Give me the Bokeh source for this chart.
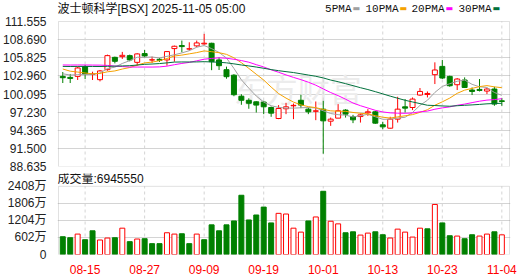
import pandas as pd
from bokeh.plotting import figure
from bokeh.layouts import column
from bokeh.models import (Range1d, FixedTicker, NumeralTickFormatter, Label, ColumnDataSource,
                          Grid, BoxAnnotation)
from bokeh.embed import file_html
from bokeh.resources import INLINE

title_text = "波士顿科学[BSX] 2025-11-05 05:00"
volume_title = "成交量"
last_volume = 6945550
watermark = "东方财富"

dates = ["08-12", "08-13", "08-14", "08-15", "08-18", "08-19", "08-20", "08-21", "08-22",
         "08-25", "08-26", "08-27", "08-28", "08-29", "09-02", "09-03", "09-04", "09-05",
         "09-08", "09-09", "09-10", "09-11", "09-12", "09-15", "09-16", "09-17", "09-18",
         "09-19", "09-22", "09-23", "09-24", "09-25", "09-26", "09-29", "09-30", "10-01",
         "10-02", "10-03", "10-06", "10-07", "10-08", "10-09", "10-10", "10-13", "10-14",
         "10-15", "10-16", "10-17", "10-20", "10-21", "10-22", "10-23", "10-24", "10-27",
         "10-28", "10-29", "10-30", "10-31", "11-03", "11-04"]

opens = [102.88, 102.72, 102.88, 104.42, 103.20, 102.36, 103.94, 105.89, 106.00, 106.16,
         105.10, 106.48, 105.47, 105.58, 105.48, 107.27, 107.75, 107.20, 107.70, 108.01,
         108.11, 105.48, 103.94, 103.07, 99.74, 99.10, 98.86, 98.82, 97.96, 96.22,
         97.76, 98.23, 99.10, 97.70, 97.36, 97.70, 95.80, 96.28, 97.55, 96.53,
         96.53, 97.12, 97.28, 95.22, 94.69, 96.12, 98.07, 97.96, 99.93, 100.02,
         103.15, 104.46, 102.88, 101.56, 102.31, 100.72, 100.82, 100.56, 100.88, 99.02]
highs = [103.57, 103.26, 104.42, 104.69, 103.62, 103.89, 106.32, 106.00, 106.75, 106.32,
         106.53, 107.06, 106.00, 105.80, 106.85, 107.75, 108.54, 108.27, 108.54, 109.60,
         108.20, 105.89, 104.42, 103.23, 100.06, 99.42, 98.94, 99.02, 98.12, 98.34,
         98.70, 98.59, 99.98, 97.96, 98.91, 99.02, 96.37, 98.50, 97.70, 96.80,
         97.01, 97.70, 97.44, 95.69, 96.49, 99.66, 99.29, 99.55, 101.04, 100.50,
         105.10, 105.48, 102.99, 102.62, 102.72, 101.13, 102.46, 101.04, 101.24, 99.45]
lows = [101.83, 101.83, 102.31, 102.46, 102.31, 102.09, 103.78, 104.94, 105.64, 105.26,
        104.58, 105.89, 105.00, 105.16, 104.58, 105.21, 106.69, 106.95, 107.48, 107.90,
        103.86, 103.89, 102.51, 99.74, 98.39, 97.76, 97.17, 96.91, 96.49, 96.12,
        96.91, 96.12, 97.86, 96.91, 95.96, 90.66, 95.06, 96.28, 96.37, 95.49,
        95.58, 96.64, 95.38, 94.54, 94.63, 95.58, 97.17, 97.55, 99.82, 99.55,
        101.67, 102.46, 101.24, 100.72, 101.04, 99.93, 100.50, 100.09, 98.23, 98.23]
closes = [102.67, 102.56, 104.21, 103.26, 103.24, 103.74, 106.16, 105.26, 106.21, 105.48,
          106.43, 106.11, 105.50, 105.42, 106.80, 107.64, 107.59, 107.24, 108.17, 108.12,
          105.21, 104.57, 102.83, 99.98, 99.10, 98.63, 98.34, 98.07, 97.07, 97.80,
          98.07, 98.30, 98.34, 97.28, 97.44, 95.85, 96.12, 97.44, 96.91, 96.01,
          96.80, 97.28, 95.49, 94.90, 96.12, 97.70, 97.86, 99.29, 100.50, 100.18,
          103.89, 102.62, 101.40, 102.46, 101.13, 100.50, 100.66, 100.88, 98.50, 98.91]
# volume in 万股 (10k shares)
volumes = [628, 593, 721, 523, 837, 512, 582, 593, 930, 454,
           547, 558, 384, 384, 768, 721, 733, 384, 721, 523,
           1047, 837, 1047, 1186, 2093, 1221, 1396, 1675, 1116, 1454,
           1430, 930, 791, 1186, 1326, 2233, 1175, 1082, 768, 802,
           686, 756, 802, 698, 582, 896, 791, 616, 930, 907,
           1768, 1116, 663, 651, 558, 698, 651, 721, 802, 694.555]
# estimated closes of the 29 sessions before 08-12 (only feed the moving averages)
closes_before = [103.0, 103.8, 103.2, 103.5, 104.0, 105.2, 104.6, 105.0, 104.4, 103.3,
                 102.8, 104.0, 103.3, 103.5, 103.9, 107.0, 107.4, 107.8, 107.0, 106.5,
                 106.0, 105.6, 104.8, 104.5, 103.1, 103.6, 103.9, 103.2, 103.1]

price_ticks = [88.635, 91.500, 94.365, 97.230, 100.095, 102.960, 105.825, 108.690, 111.555]
volume_ticks = [0, 602, 1204, 1806, 2408]
date_ticks = ["08-15", "08-27", "09-09", "09-19", "10-01", "10-13", "10-23", "11-04"]
ma_periods = [5, 10, 20, 30]
ma_names = ["5PMA", "10PMA", "20PMA", "30PMA"]
ma_colors = ["#a0a0a0", "#f5a200", "#ff00ff", "#00703c"]

UP = "#ff0000"
DOWN = "#008000"
GRID = "#d4d4d4"
FRAME = "#9a9a9a"
FONT = "Liberation Sans, Noto Sans CJK SC"

# ---------------- layout geometry (pixels) ----------------
W = 530
FRAME_L, FRAME_R = 55, 510          # plotting frame (1px wider than the drawn box)
BOX_L, BOX_R = 56, 509              # drawn panel boxes
BAR1_PX, BAR_STEP = 60.3, 7.4746    # pixel of first bar and bar spacing
P_TOP, P_BOT, P_H = 21, 166, 173    # price box top/bottom, price figure height
V_TOP, V_BOT, V_H = 186, 255, 103   # volume box top/bottom (canvas), volume figure height
V_START = P_H                       # canvas y where the volume figure starts


def px_to_bar(px):
    return 1 + (px - BAR1_PX) / BAR_STEP


n = len(closes)
xs = list(range(1, n + 1))
prev_close = [closes_before[-1]] + closes[:-1]
is_up = [c >= o for o, c in zip(opens, closes)]
vol_up = [c >= pc for c, pc in zip(closes, prev_close)]

src = ColumnDataSource(dict(
    x=xs, high=highs, low=lows,
    top=[max(o, c) for o, c in zip(opens, closes)],
    bottom=[min(o, c) for o, c in zip(opens, closes)],
    line=[UP if u else DOWN for u in is_up],
    fill=["#ffffff" if u else DOWN for u in is_up],
))
vsrc = ColumnDataSource(dict(
    x=xs, vol=volumes,
    line=[UP if u else DOWN for u in vol_up],
    fill=["#ffffff" if u else DOWN for u in vol_up],
))

full = pd.Series(closes_before + closes)
mas = [full.rolling(k).mean().iloc[len(closes_before):].tolist() for k in ma_periods]

x_range = Range1d(px_to_bar(FRAME_L), px_to_bar(FRAME_R))
box_left, box_right = px_to_bar(BOX_L), px_to_bar(BOX_R)
tick_pos = [dates.index(d) + 1 for d in date_ticks]

# ---------------- price panel ----------------
p_lo, p_hi = price_ticks[0], price_ticks[-1]
per_px = (p_hi - p_lo) / (P_BOT - P_TOP)
p = figure(width=W, height=P_H, x_range=x_range,
           y_range=Range1d(p_lo, p_hi + P_TOP * per_px),
           output_backend="svg", toolbar_location=None, x_axis_location=None,
           min_border_left=FRAME_L, min_border_right=W - FRAME_R,
           min_border_top=0, min_border_bottom=P_H - P_BOT)
p.grid.visible = False
p.background_fill_color = "white"
p.border_fill_color = "white"
p.outline_line_color = None

p.yaxis.ticker = FixedTicker(ticks=price_ticks)
p.yaxis.formatter = NumeralTickFormatter(format="0.000")
p.yaxis.axis_line_color = None
p.yaxis.major_tick_line_color = None
p.yaxis.minor_tick_line_color = None
p.yaxis.major_label_text_font_size = "12px"
p.yaxis.major_label_text_font = FONT
p.yaxis.major_label_text_color = "#222222"
p.yaxis.major_label_standoff = 5

p.add_layout(Grid(dimension=1, ticker=FixedTicker(ticks=price_ticks[1:-1]),
                  grid_line_color=GRID, grid_line_width=1))
p.segment(x0=tick_pos, y0=[p_lo] * len(tick_pos), x1=tick_pos, y1=[p_hi] * len(tick_pos),
          line_color=GRID, line_width=1, line_dash="3 3")

p.add_layout(Label(x=px_to_bar(232), y=p_hi - (90 - P_TOP) * per_px, text=watermark,
                   text_font=FONT, text_font_size="32px", text_color="#ececec",
                   text_baseline="middle", level="underlay"))

p.segment(x0="x", y0="high", x1="x", y1="low", line_color="line", line_width=1, source=src)
p.vbar(x="x", width=0.67, top="top", bottom="bottom", fill_color="fill",
       line_color="line", line_width=1, source=src)

for ma, col in zip(mas, ma_colors):
    p.line(xs, ma, line_color=col, line_width=1)

p.add_layout(BoxAnnotation(left=box_left, right=box_right, bottom=p_lo, top=p_hi,
                           fill_color=None, line_color=FRAME, line_width=1))

p.add_layout(Label(x=57, y=8, x_units="canvas", y_units="canvas", text=title_text,
                   text_font=FONT, text_font_size="12px", text_color="#111111",
                   text_baseline="middle"))

sq_x = [352, 399, 445, 492]
for name, col, sx in zip(ma_names, ma_colors, sq_x):
    p.add_layout(Label(x=sx - 1, y=8, x_units="canvas", y_units="canvas", text=name,
                       text_font="Liberation Mono", text_font_size="11px",
                       text_color="#111111", text_align="right", text_baseline="middle"))
    p.add_layout(Label(x=sx, y=8, x_units="canvas", y_units="canvas", text="▬",
                       text_font="DejaVu Sans", text_font_size="8px",
                       text_color=col, text_align="left", text_baseline="middle"))

# ---------------- volume panel ----------------
v_max = volume_ticks[-1]
v_per_px = v_max / (V_BOT - V_TOP)
v = figure(width=W, height=V_H, x_range=x_range,
           y_range=Range1d(0, v_max + (V_TOP - V_START) * v_per_px),
           output_backend="svg", toolbar_location=None,
           min_border_left=FRAME_L, min_border_right=W - FRAME_R,
           min_border_top=0, min_border_bottom=V_START + V_H - V_BOT)
v.grid.visible = False
v.background_fill_color = "white"
v.border_fill_color = "white"
v.outline_line_color = None

v.yaxis.ticker = FixedTicker(ticks=volume_ticks)
v.yaxis.major_label_overrides = {t: (f"{t}万" if t else "0") for t in volume_ticks}
v.yaxis.axis_line_color = None
v.yaxis.major_tick_line_color = None
v.yaxis.minor_tick_line_color = None
v.yaxis.major_label_text_font_size = "12px"
v.yaxis.major_label_text_font = FONT
v.yaxis.major_label_text_color = "#222222"
v.yaxis.major_label_standoff = 5

v.xaxis.ticker = FixedTicker(ticks=tick_pos)
v.xaxis.major_label_overrides = {pos: d for pos, d in zip(tick_pos, date_ticks)}
v.xaxis.axis_line_color = None
v.xaxis.major_tick_line_color = None
v.xaxis.minor_tick_line_color = None
v.xaxis.major_label_text_font_size = "12px"
v.xaxis.major_label_text_font = FONT
v.xaxis.major_label_text_color = UP
v.xaxis.major_label_standoff = 4

v.add_layout(Grid(dimension=1, ticker=FixedTicker(ticks=volume_ticks[1:-1]),
                  grid_line_color=GRID, grid_line_width=1))
v.segment(x0=tick_pos, y0=[0] * len(tick_pos), x1=tick_pos, y1=[v_max] * len(tick_pos),
          line_color=GRID, line_width=1, line_dash="3 3")

v.vbar(x="x", width=0.67, top="vol", bottom=0, fill_color="fill",
       line_color="line", line_width=1, source=vsrc)

v.add_layout(BoxAnnotation(left=box_left, right=box_right, bottom=0, top=v_max,
                           fill_color=None, line_color=FRAME, line_width=1))

v.add_layout(Label(x=57, y=5.5, x_units="canvas", y_units="canvas",
                   text=f"{volume_title}:{last_volume}",
                   text_font=FONT, text_font_size="12px", text_color="#111111",
                   text_baseline="middle"))

layout = column(p, v, spacing=0)
open("out.html", "w").write(file_html(layout, INLINE))
